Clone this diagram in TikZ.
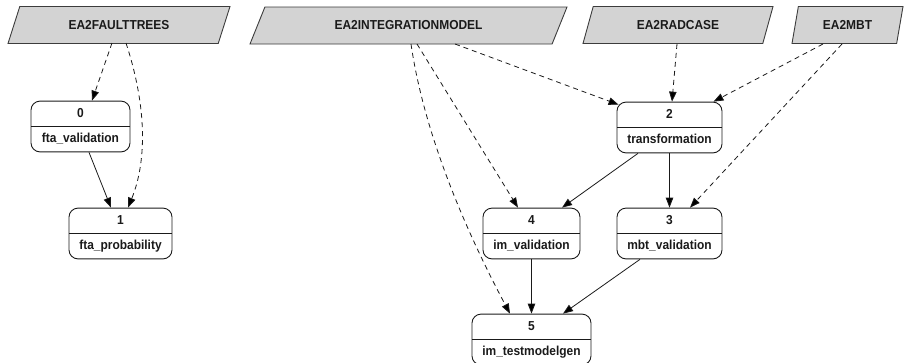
\documentclass[tikz,border=0pt]{standalone}
\usepackage{fontspec}
\setmainfont{Liberation Sans}
\newfontfamily\condfont[FakeStretch=0.92]{Liberation Sans}
\usetikzlibrary{shapes.geometric,shapes.multipart,arrows.meta,calc}
\definecolor{pfill}{HTML}{D3D3D3}
\definecolor{ink}{HTML}{1A1A1A}
\newcommand{\stt}{\rule[-4.5pt]{0pt}{16.5pt}}
\tikzset{
  lbl/.style={font=\condfont\bfseries\fontsize{13}{15}\selectfont, text=ink},
  src/.style={lbl, trapezium, trapezium stretches body, draw=ink!85, fill=pfill,
    line width=0.9pt, minimum height=37pt, inner sep=0pt},
  task/.style={lbl, rectangle split, rectangle split parts=2, draw=ink,
    rounded corners=9pt, line width=0.9pt, inner ysep=4pt, inner xsep=2pt},
  dep/.style={-{Triangle[length=10pt,width=7.5pt]}, line width=0.8pt, draw=ink},
  weak/.style={dep, dash pattern=on 5pt off 4pt},
}
\begin{document}
\begin{tikzpicture}[x=1pt,y=-1pt]
\useasboundingbox (0,0) rectangle (910,362);
% sources
\node[src, minimum width=222pt, trapezium left angle=38, trapezium right angle=142] (ft) at (119,25) {EA2FAULTTREES};
\node[src, minimum width=317pt, trapezium left angle=31.7, trapezium right angle=148.3] (im) at (408.5,25.5) {EA2INTEGRATIONMODEL};
\node[src, minimum width=190pt, trapezium left angle=42, trapezium right angle=138] (rad) at (678,25) {EA2RADCASE};
\node[src, minimum width=111pt, trapezium left angle=55, trapezium right angle=125] (mbt) at (847.5,25) {EA2MBT};
% tasks
\node[task, minimum width=99pt] (n0) at (80.5,126.5) {\stt 0\nodepart{two}\stt fta\_validation};
\node[task, minimum width=103pt] (n1) at (120.5,233.5) {\stt 1\nodepart{two}\stt fta\_probability};
\node[task, minimum width=105pt] (n2) at (669.5,127.5) {\stt 2\nodepart{two}\stt transformation};
\node[task, minimum width=97pt] (n4) at (531.5,233.5) {\stt 4\nodepart{two}\stt im\_validation};
\node[task, minimum width=105pt] (n3) at (669.5,233.5) {\stt 3\nodepart{two}\stt mbt\_validation};
\node[task, minimum width=119pt] (n5) at (531.5,339.5) {\stt 5\nodepart{two}\stt im\_testmodelgen};
% dashed dependencies
\draw[weak] ($(ft.center)+(-7,18)$) -- ($(n0.north)+(11.5,0)$);
\draw[weak] ($(ft.center)+(7,18)$) .. controls +(22,67) and +(18,-44) .. ($(n1.north)+(7.5,0)$);
\draw[weak] ($(im.center)+(46.5,18.5)$) -- ($(n2.north west)+(2,3)$);
\draw[weak] ($(im.center)+(8.5,18.5)$) -- ($(n4.north)+(-13.5,0)$);
\draw[weak] ($(im.center)+(2.5,18.5)$) .. controls +(14,96) and +(-40,-75) .. ($(n5.north)+(-21.5,0)$);
\draw[weak] ($(rad.center)+(-1,19)$) -- ($(n2.north)+(2.5,0)$);
\draw[weak] ($(mbt.center)+(-24.5,19)$) -- ($(n2.north east)+(-9,0)$);
\draw[weak] ($(mbt.center)+(-5.5,19)$) -- ($(n3.north)+(20.5,0)$);
% solid dependencies
\draw[dep] ($(n0.south)+(8.5,0)$) -- ($(n1.north)+(-9.5,0)$);
\draw[dep] ($(n2.south)+(-31.5,0)$) -- ($(n4.north)+(30.5,0)$);
\draw[dep] (n2.south) -- (n3.north);
\draw[dep] (n4.south) -- (n5.north);
\draw[dep] ($(n3.south)+(-29.5,0)$) -- ($(n5.north)+(31.5,0)$);
\end{tikzpicture}
\end{document}
